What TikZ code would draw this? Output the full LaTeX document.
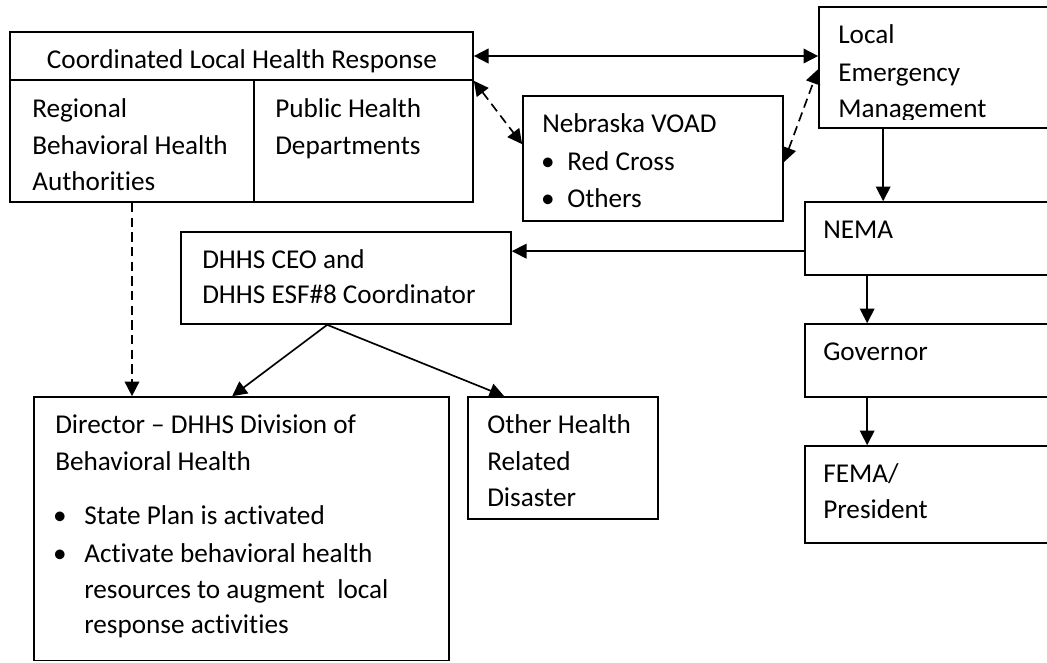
\documentclass[tikz,border=0pt]{standalone}
\usepackage{fontspec}
\setmainfont{Carlito}[Ligatures=CommonOff]
\usetikzlibrary{arrows.meta}
\usetikzlibrary{calc}
\usetikzlibrary{fit}
\newcommand{\boxfont}{\fontsize{20.4}{24}\selectfont}

\tikzset{
  box/.style={draw, line width=1.25pt, inner sep=0pt},
  lbl/.style={anchor=base west, inner sep=0pt, font=\boxfont},
  dot/.style={anchor=base, inner sep=0pt, font=\boxfont},
  arr/.style={-{Triangle[length=11pt,width=11pt]}, line width=1.25pt},
  darr/.style={{Triangle[length=11pt,width=11pt]}-{Triangle[length=11pt,width=11pt]}, line width=1.25pt, dash pattern=on 7pt off 4pt}
}

\begin{document}
\begin{tikzpicture}[x=0.75pt, y=-0.75pt]
            \useasboundingbox (0,0) rectangle (1047,662);
            % Boxes
            \node (hdr)    [box, fit={(10,32) (473,80)}] {};
            \node (rbha)   [box, fit={(10,80) (254,202)}] {};
            \node (phd)    [box, fit={(254,80) (473,202)}] {};
            \node (voad)   [box, fit={(523,96) (783,221)}] {};
            \node (lem)    [box, fit={(819,7) (1060,128)}] {};
            \node (nema)   [box, fit={(805,202) (1060,275)}] {};
            \node (gov)    [box, fit={(805,324) (1060,397)}] {};
            \node (fema)   [box, fit={(805,446) (1060,543)}] {};
            \node (dhhs)   [box, fit={(181,232) (511,324)}] {};
            \node (dir)    [box, fit={(34,397) (449,660.5)}] {};
            \node (other)  [box, fit={(468,397) (658,519)}] {};
            % Texts
            \node (hdrtxt) [lbl, anchor=base] at (242,68) {Coordinated Local Health Response};
            \foreach \txt/\yy in {Regional/117, Behavioral Health/154, Authorities/190}
              \node (rbha-\yy) [lbl] at (32,\yy) {\txt};
            \foreach \txt/\yy in {Public Health/117, Departments/154}
              \node (phd-\yy) [lbl] at (275,\yy) {\txt};
            \node (voadtxt) [lbl] at (542,132) {Nebraska VOAD};
            \foreach \txt/\yy in {Red Cross/170, Others/207} {
              \node (voadb-\yy) [dot] at (548,\yy) {•};
              \node (voadt-\yy) [lbl] at (567,\yy) {\txt};
            }
            \begin{scope}
              \clip (819,0) rectangle (1047,119);
              \foreach \txt/\yy in {Local/43, Emergency/81, Management/117}
                \node (lem-\yy) [lbl] at (838,\yy) {\txt};
            \end{scope}
            \node (nematxt) [lbl] at (823,238) {NEMA};
            \node (govtxt)  [lbl] at (823,360) {Governor};
            \node (fematxt) [lbl] at (823,482) {FEMA/};
            \node (prestxt) [lbl] at (823,518) {President};
            \foreach \txt/\yy in {DHHS CEO and/268, DHHS ESF\#8 Coordinator/303}
              \node (dhhs-\yy) [lbl] at (202,\yy) {\txt};
            \foreach \txt/\yy in {Other Health/433, Related/470, Disaster/506}
              \node (other-\yy) [lbl] at (487,\yy) {\txt};
            \foreach \txt/\yy in {Director – DHHS Division of/433, Behavioral Health/470}
              \node (dir-\yy) [lbl] at (55,\yy) {\txt};
            \foreach \yy in {524, 562}
              \node (dirb-\yy) [dot] at (60,\yy) {•};
            \foreach \txt/\yy in {State Plan is activated/524, Activate behavioral health/562, resources to augment~ local/598, response activities/633}
              \node (dirt-\yy) [lbl] at (84,\yy) {\txt};
            % Connectors
            \draw[arr, {Triangle[length=11pt,width=11pt]}-{Triangle[length=11pt,width=11pt]}] (hdr.east) -- (hdr.east -| lem.west);
            \draw[darr] (hdr.south east) -- ($(voad.north west)+(0,49)$);
            \draw[darr] ($(voad.north east)+(0,67)$) -- ($(lem.north west)+(0,63)$);
            \draw[arr] ($(lem.south west)+(65,0)$) coordinate (lemout) -- (lemout |- nema.north);
            \draw[arr] ($(nema.north west)+(0,50)$) coordinate (nemaout) -- (nemaout -| dhhs.east);
            \draw[arr] ($(nema.south west)+(63,0)$) coordinate (nemadown) -- (nemadown |- gov.north);
            \draw[arr] ($(gov.south west)+(63,0)$) coordinate (govdown) -- (govdown |- fema.north);
            \draw[arr, dash pattern=on 7pt off 4pt] (rbha.south) -- (rbha.south |- dir.north);
            \draw[arr] ($(dhhs.south west)+(147,0)$) coordinate (dhhsout) -- ($(dir.north west)+(199,0)$);
            \draw[arr] (dhhsout) -- ($(other.north west)+(37,0)$);
\end{tikzpicture}
\end{document}
